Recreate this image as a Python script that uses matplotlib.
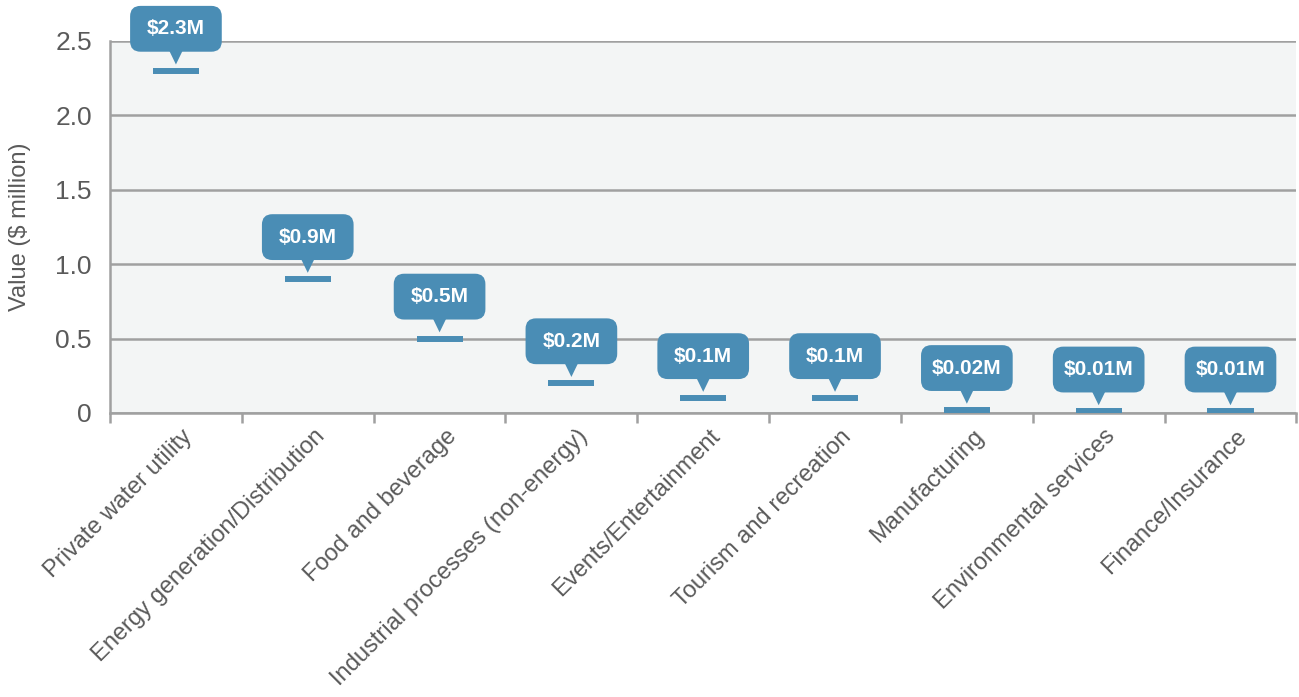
import numpy as np
import matplotlib.pyplot as plt
import matplotlib.transforms as mtransforms
from matplotlib.patches import FancyBboxPatch, Polygon

# Data
categories = ["Private water utility", "Energy generation/Distribution", "Food and beverage",
              "Industrial processes (non-energy)", "Events/Entertainment", "Tourism and recreation",
              "Manufacturing", "Environmental services", "Finance/Insurance"]
values = [2.3, 0.9, 0.5, 0.2, 0.1, 0.1, 0.02, 0.01, 0.01]
labels = ["$2.3M", "$0.9M", "$0.5M", "$0.2M", "$0.1M", "$0.1M", "$0.02M", "$0.01M", "$0.01M"]
yticks = [0, 0.5, 1.0, 1.5, 2.0, 2.5]
ytick_labels = ["0", "0.5", "1.0", "1.5", "2.0", "2.5"]

blue = "#4a8db5"
grey = "#a0a0a0"
text_grey = "#5a5a5a"

plt.rcParams['font.family'] = ['Liberation Sans', 'DejaVu Sans']

fig = plt.figure(figsize=(12.99, 6.97), dpi=100)
ax = fig.add_axes([0.0847, 0.4075, 0.9133, 0.5337])
ax.set_facecolor("#f3f5f5")

x = np.arange(len(categories))
ax.set_xlim(-0.5, len(categories) - 0.5)
ax.set_ylim(0, 2.5)

# grid lines
ax.set_yticks(yticks)
ax.set_yticklabels(ytick_labels, fontsize=19, color=text_grey)
ax.yaxis.grid(True, color=grey, linewidth=1.8)
ax.set_axisbelow(True)
ax.tick_params(axis='y', length=0, pad=13)

# boundary ticks between categories
ax.set_xticks(np.arange(len(categories) + 1) - 0.5)
ax.set_xticklabels([])
ax.tick_params(axis='x', length=7, width=1.8, color=grey)
for i, c in enumerate(categories):
    trans = mtransforms.offset_copy(ax.get_xaxis_transform(), fig=fig, x=4, y=-9, units='points')
    ax.text(i, 0, c, transform=trans, rotation=45, rotation_mode='anchor',
            ha='right', va='top', fontsize=17, color=text_grey)

for s in ['top', 'right']:
    ax.spines[s].set_visible(False)
for s in ['left', 'bottom']:
    ax.spines[s].set_color(grey)
    ax.spines[s].set_linewidth(1.8)

ax.set_ylabel("Value ($ million)", fontsize=17, color=text_grey)
ax.yaxis.set_label_coords(-0.067, 0.5)

# markers (short horizontal bars)
ax.errorbar(x, values, xerr=0.175, fmt='none', ecolor=blue, elinewidth=4.3, capsize=0, zorder=4)

# callout labels, sized in points around each marker
pt = fig.dpi / 72.0
for i, (v, lab) in enumerate(zip(values, labels)):
    tr = mtransforms.Affine2D().scale(pt) + mtransforms.ScaledTranslation(i, v, ax.transData)
    box = FancyBboxPatch((-33, 13.7), 66, 33, boxstyle='round,pad=0,rounding_size=7.5',
                         fc=blue, ec='none', transform=tr, clip_on=False, zorder=5)
    ax.add_patch(box)
    ax.add_patch(Polygon([(-4.7, 14.2), (4.7, 14.2), (0, 4.5)], closed=True, fc=blue, ec='none',
                         transform=tr, clip_on=False, zorder=5))
    ax.text(0, 30.2, lab, transform=tr, ha='center', va='center', fontsize=15,
            fontweight='bold', color='white', zorder=6)

fig.savefig("out.png", dpi=100)
